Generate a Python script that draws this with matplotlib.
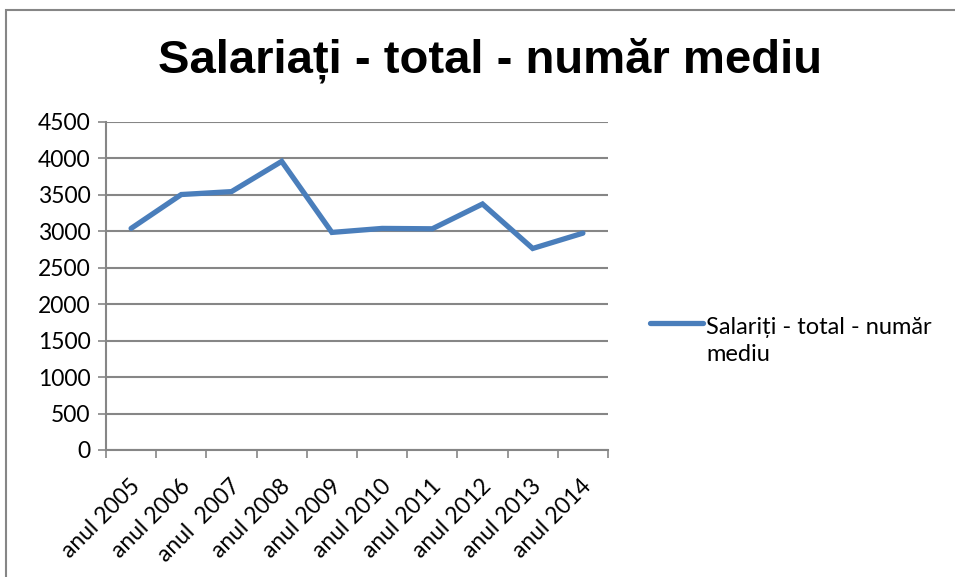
import matplotlib
matplotlib.use("Agg")
import matplotlib.pyplot as plt
import matplotlib.transforms as mtransforms
from matplotlib.patches import Rectangle

categories = ["anul 2005", "anul 2006", "anul  2007", "anul 2008", "anul 2009",
              "anul 2010", "anul 2011", "anul 2012", "anul 2013", "anul 2014"]
values = [3040, 3505, 3545, 3960, 2985, 3040, 3035, 3375, 2765, 2975]
yticks = [0, 500, 1000, 1500, 2000, 2500, 3000, 3500, 4000, 4500]
series_name = "Salariți - total - număr\nmediu"
title = "Salariați - total - număr mediu"

body_font = ["Lato", "DejaVu Sans"]
title_font = ["Liberation Sans", "DejaVu Sans"]
gray = "#868686"
blue = "#4A7EBB"
fs = 16.5

fig = plt.figure(figsize=(9.55, 5.77), dpi=100)
ax = fig.add_axes([106/955, 1-450/577, (608-106)/955, (450-122)/577])

x = list(range(len(categories)))
ax.plot(x, values, color=blue, lw=3.8, solid_capstyle="round", solid_joinstyle="miter")

ax.set_xlim(-0.5, len(categories) - 0.5)
ax.set_ylim(0, 4500)
ax.set_yticks(yticks)
ax.set_yticklabels([str(v) for v in yticks], fontfamily=body_font, fontsize=fs)
ax.yaxis.grid(True, color=gray, lw=1.5)
ax.set_axisbelow(True)

ax.set_xticks([i - 0.5 for i in range(len(categories) + 1)])
ax.set_xticklabels([])
ax.set_xticks(x, minor=True)
ax.set_xticklabels(categories, minor=True, rotation=45, ha="right", va="top",
                   rotation_mode="anchor", fontfamily=body_font, fontsize=fs)
ax.tick_params(axis="x", which="minor", length=0, pad=8)
ax.tick_params(axis="x", which="major", length=6, width=1.2, color=gray, direction="out")
ax.tick_params(axis="y", length=6, width=1.2, color=gray, direction="out", pad=5)
off = mtransforms.ScaledTranslation(-2/100, -14/100, fig.dpi_scale_trans)
for lab in ax.get_xticklabels(minor=True):
    lab.set_transform(lab.get_transform() + off)

for s in ["top", "right"]:
    ax.spines[s].set_visible(False)
for s in ["left", "bottom"]:
    ax.spines[s].set_color(gray)
    ax.spines[s].set_linewidth(1.5)

fig.text(490/955, 1-60/577, title, ha="center", va="center", fontfamily=title_font,
         fontweight="bold", fontsize=34)

# legend
fig.add_artist(plt.Line2D([650/955, 703/955], [1-323/577, 1-323/577], color=blue,
                          lw=3.8, solid_capstyle="round"))
fig.text(706/955, 1-341/577, series_name, ha="left", va="center",
         fontfamily=body_font, fontsize=17, linespacing=1.4)

# chart frame
fig.add_artist(Rectangle((6/955, -0.1), 1.2, 1.1 - 10/577, transform=fig.transFigure,
                         fill=False, edgecolor=gray, lw=1.5))

fig.savefig("out.png", dpi=100)
